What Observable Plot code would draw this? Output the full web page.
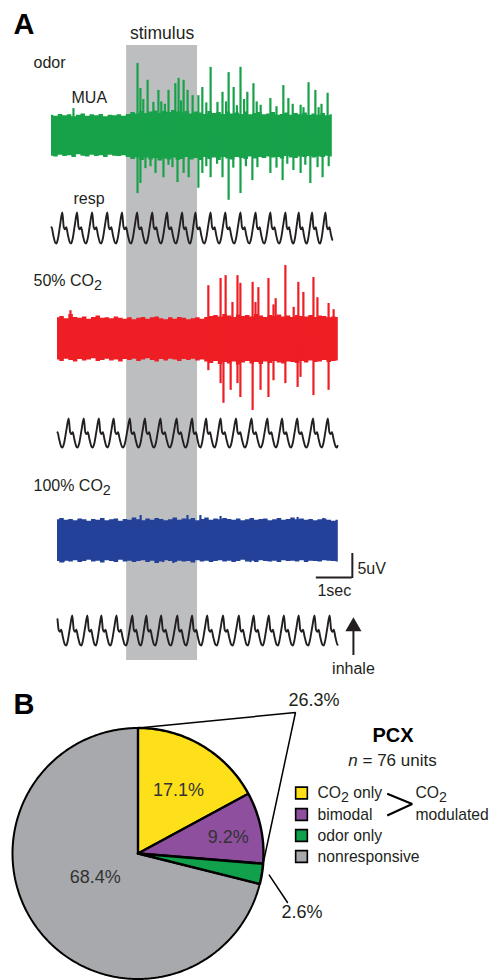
<!DOCTYPE html>
<html><head><meta charset="utf-8">
<script src="https://cdn.jsdelivr.net/npm/d3@7"></script>
<script src="https://cdn.jsdelivr.net/npm/@observablehq/plot@0.6"></script>
<style>
html,body{margin:0;padding:0;background:#fff;}
#chart svg{display:block;}
</style></head><body><div id="chart"></div>
<script>
// ---------------- DATA ----------------
// Panel A: stimulus window (s, relative to CO2-trace start)
const stimulus = [1.92, 3.89];
const scaleBar = {sec: 1, uV: 5};
// MUA envelopes (uV above / below baseline), evenly spaced over each trace
const odorTop = [4.2,4.0,4.4,4.1,4.3,3.9,4.2,4.5,4.0,4.3,4.1,4.4,3.9,4.2,4.1,4.3,4.0,4.4,4.8,4.5,5.0,4.6,4.9,5.1,4.6,5.0,4.8,5.2,4.9,4.7,5.0,4.5,4.9,4.7,4.4,5.0,4.6,4.8,4.4,4.9,4.5,4.7,4.4,4.9,4.3,4.6,4.8,4.3,4.5,4.8,4.2,4.4,4.7,4.2,4.6,4.3,4.7,4.2,4.5,4.2,4.6,4.1,4.3];
const odorBottom = [4.3,4.5,4.1,4.4,4.2,4.6,4.0,4.3,4.5,4.1,4.4,4.2,4.6,4.1,4.3,4.4,4.2,4.6,5.0,4.7,5.2,4.7,5.1,4.8,5.3,4.9,5.1,4.7,5.2,5.0,4.6,5.1,4.8,5.2,4.6,5.0,4.7,5.2,4.6,4.9,5.1,4.6,4.8,5.0,4.5,4.9,4.6,4.8,4.5,4.7,4.6,4.9,4.4,4.7,4.8,4.5,4.6,4.4,4.7,4.5,4.6,4.3,4.5];
const redTop = [4.3,4.6,4.1,5.0,4.4,4.2,4.5,4.0,4.4,4.7,4.2,4.3,4.1,4.5,4.2,4.0,4.3,3.9,4.2,4.4,4.0,4.3,4.5,4.1,3.9,4.3,4.0,4.4,4.2,3.9,4.1,4.3,4.0,4.4,4.6,4.8,4.5,5.0,4.7,4.4,4.9,4.6,4.8,4.5,5.0,4.7,4.4,4.8,4.6,4.9,4.5,4.7,4.4,4.8,4.6,4.5,4.8,4.4,4.7,4.6,4.3,4.5,4.4];
const redBottom = [4.5,4.8,4.3,4.6,4.9,4.4,4.7,4.5,4.2,4.8,4.6,4.3,4.7,4.5,4.9,4.4,4.6,4.3,4.8,4.5,4.2,4.6,4.9,4.4,4.7,4.3,4.5,4.8,4.4,4.6,4.3,4.7,4.5,4.9,5.2,4.8,5.4,5.0,5.3,4.9,5.5,5.1,4.8,5.3,5.0,5.4,4.9,5.2,4.8,5.1,5.3,4.9,5.0,5.2,4.8,5.1,4.7,5.0,4.9,4.6,5.0,4.8,4.7];
const blueTop = [4.3,4.6,4.2,4.4,4.1,4.5,4.3,4.0,4.4,4.2,4.6,4.1,4.3,4.5,4.0,4.4,4.2,4.7,4.3,4.1,4.5,4.2,4.6,4.4,4.1,4.3,4.7,4.2,4.5,4.3,4.6,4.1,4.4,4.7,4.2,4.5,4.3,4.6,4.4,4.2,4.5,4.1,4.3,4.6,4.2,4.4,4.5,4.1,4.3,4.6,4.2,4.4,4.7,4.3,4.5,4.2,4.4,4.1,4.3,4.5,4.2,4.0,4.2];
const blueBottom = [4.4,4.7,4.3,4.5,4.2,4.6,4.4,4.1,4.5,4.3,4.7,4.2,4.4,4.6,4.1,4.5,4.3,4.6,4.4,4.2,4.6,4.3,4.8,4.5,4.2,4.4,4.6,4.3,4.5,4.4,4.7,4.2,4.5,4.3,4.6,4.4,4.2,4.5,4.3,4.6,4.4,4.1,4.5,4.3,4.6,4.2,4.4,4.5,4.3,4.6,4.2,4.4,4.3,4.5,4.2,4.6,4.3,4.4,4.5,4.2,4.3,4.4,4.5];
// spikes: [time (s from trace start), amplitude uV]
const odorSpikesUp = [[0.61,5.6],[2.39,15.0],[2.47,9.8],[2.55,7.5],[2.67,11.5],[2.83,6.9],[2.97,9.4],[3.05,7.0],[3.15,6.5],[3.25,9.4],[3.44,10.8],[3.53,11.9],[3.60,7.2],[3.67,11.5],[3.78,9.4],[3.92,8.3],[4.08,8.3],[4.19,10.0],[4.30,6.8],[4.42,14.2],[4.61,6.9],[4.75,9.0],[4.85,7.0],[4.92,13.1],[5.06,10.0],[5.15,6.2],[5.25,14.2],[5.35,7.5],[5.44,9.0],[5.61,10.8],[5.70,7.0],[5.81,6.3],[6.08,7.7],[6.25,6.0],[6.44,10.4],[6.58,7.7],[6.70,6.5],[6.92,6.3],[7.00,5.8],[7.14,11.0],[7.33,9.4],[7.42,5.8],[7.50,6.5],[7.67,8.8]];
const odorSpikesDown = [[2.39,12.1],[2.47,10.0],[2.61,6.9],[2.75,6.5],[2.89,7.9],[3.11,8.8],[3.25,6.2],[3.36,6.7],[3.50,9.8],[3.67,7.9],[3.81,8.8],[4.08,11.0],[4.19,7.9],[4.30,6.5],[4.42,8.8],[4.60,6.0],[4.75,8.8],[4.92,13.5],[5.05,6.8],[5.25,12.1],[5.40,6.5],[5.58,9.4],[5.72,6.7],[6.08,7.9],[6.25,6.8],[6.42,9.4],[6.55,6.0],[6.72,7.3],[6.92,7.9],[7.05,6.2],[7.19,10.0],[7.39,6.7],[7.53,8.8],[7.70,6.5]];
const redSpikesUp = [[0.36,5.8],[4.19,11.0],[4.33,4.6],[4.53,12.5],[4.67,13.1],[4.86,7.5],[5.00,13.1],[5.08,11.5],[5.42,11.7],[5.50,7.5],[5.58,10.6],[5.86,12.5],[6.00,7.0],[6.06,8.3],[6.33,15.2],[6.56,6.5],[6.69,11.7],[6.83,9.6],[7.11,12.7],[7.22,8.5],[7.53,7.3],[7.67,6.0]];
const redSpikesDown = [[4.19,6.7],[4.53,9.4],[4.61,13.5],[4.81,10.8],[5.00,9.4],[5.08,12.3],[5.42,15.0],[5.64,10.8],[5.86,12.3],[6.00,8.8],[6.33,9.4],[6.67,10.2],[6.75,8.1],[7.11,11.9],[7.53,10.8]];
const blueSpikesUp = [[2.31,5.2],[3.61,5.2],[3.97,5.2],[4.53,5.0],[6.67,4.8],[7.39,4.6]];
const blueSpikesDown = [[0.17,4.6],[2.94,4.6],[3.22,4.8],[5.36,4.6]];
// respiration: inhalation peak times (s from trace start) and one-cycle shape [phase, level]
const resp1Peaks = [0.30,0.71,1.13,1.55,1.96,2.38,2.80,3.21,3.63,4.00,4.42,4.83,5.25,5.67,6.08,6.50,6.87,7.24,7.61];
const resp2Peaks = [0.31,0.73,1.15,1.56,2.01,2.43,2.86,3.31,3.74,4.13,4.53,4.96,5.39,5.83,6.24,6.66,7.10,7.51];
const resp3Peaks = [0.41,0.83,1.22,1.64,2.08,2.47,2.88,3.33,3.74,4.16,4.60,5.04,5.45,5.87,6.29,6.70,7.14,7.56];
const respShape = [[0,1],[0.10,0.05],[0.18,-0.08],[0.27,0.05],[0.38,-0.45],[0.52,-0.95],[0.60,-1],[0.70,-0.7],[0.85,0.2],[1,1]];
// Panel B
const pieCategories = ["CO_2 only","bimodal","odor only","nonresponsive"];
const piePercents = [17.1, 9.2, 2.6, 68.4];
const pieColors = ["#fde01a","#8e4f9f","#11a04b","#a7a9ac"];
const pieTitle = "PCX";
const pieSubtitle = "n = 76 units";

// ---------------- LAYOUT ----------------
const W = 489, HA = 680, HB = 300;
const pxPerSec = 36, pxPerUV = 4.8, xOrigin = 57;
const FONT = "'Liberation Sans', Arial, Helvetica, sans-serif";
const INK = "#231f20";
const tracks = {
  odor: {start: -6/36, dur: 7.8, center: 135, color: "#17a24a"},
  red:  {start: 0, dur: 7.8, center: 338, color: "#ed1f24"},
  blue: {start: 0, dur: 7.8, center: 540, color: "#234199"},
  r1: {start: -6/36, dur: 7.8, center: 227.5, half: 15.5},
  r2: {start: 0, dur: 7.78, center: 432.5, half: 14.5},
  r3: {start: 0, dur: 7.78, center: 630, half: 15}
};

function band(top, bottom, tr) {
  const n = Math.min(top.length, bottom.length), dt = tr.dur / (n - 1);
  return d3.range(n).map(i => ({t: tr.start + i * dt, hi: tr.center - top[i] * pxPerUV, lo: tr.center + bottom[i] * pxPerUV}));
}
function spikes(list, tr, dir) {
  return list.map(([t, a]) => ({t: tr.start + t, y1: tr.center, y2: tr.center - dir * a * pxPerUV}));
}
function resp(peaks, tr) {
  const period = (peaks[peaks.length - 1] - peaks[0]) / (peaks.length - 1);
  const ps = [peaks[0] - period, ...peaks, peaks[peaks.length - 1] + period];
  let pts = [];
  for (let i = 0; i < ps.length - 1; i++) {
    respShape.forEach(([ph, v], j) => {
      if (j === respShape.length - 1 && i < ps.length - 2) return;
      pts.push({t: ps[i] + ph * (ps[i + 1] - ps[i]), v});
    });
  }
  const interp = (t) => {
    for (let i = 0; i < pts.length - 1; i++) if (pts[i].t <= t && pts[i + 1].t >= t) {
      const f = (t - pts[i].t) / (pts[i + 1].t - pts[i].t);
      return pts[i].v + f * (pts[i + 1].v - pts[i].v);
    }
    return 0;
  };
  const inner = pts.filter(p => p.t > 0 && p.t < tr.dur);
  const all = [{t: 0, v: interp(0)}, ...inner, {t: tr.dur, v: interp(tr.dur)}];
  return all.map(p => ({t: tr.start + p.t, y: tr.center - p.v * tr.half}));
}

const stimMid = (stimulus[0] + stimulus[1]) / 2;
const barX2 = 8.19, barX1 = barX2 - scaleBar.sec, barY = 577;
const arrowX = 8.22;

function muaMarks(top, bottom, up, down, tr) {
  return [
    Plot.areaY(band(top, bottom, tr), {x: "t", y1: "lo", y2: "hi", fill: tr.color, curve: "step"}),
    Plot.ruleX(spikes(up, tr, 1), {x: "t", y1: "y1", y2: "y2", stroke: tr.color, strokeWidth: 2.2}),
    Plot.ruleX(spikes(down, tr, -1), {x: "t", y1: "y1", y2: "y2", stroke: tr.color, strokeWidth: 2.2})
  ];
}
function respMark(peaks, tr) {
  return Plot.line(resp(peaks, tr), {x: "t", y: "y", stroke: INK, strokeWidth: 1.9, curve: "monotone-x"});
}
const tx = (x, y, text, o = {}) => Plot.text([{x, y, text}], {x: "x", y: "y", text: "text", textAnchor: "start", lineAnchor: "middle", fontSize: 16, fill: INK, ...o});

const plotA = Plot.plot({
  width: W, height: HA, margin: 0,
  x: {domain: [-xOrigin / pxPerSec, (W - xOrigin) / pxPerSec], range: [0, W], axis: null},
  y: {domain: [0, HA], range: [0, HA], axis: null},
  style: {fontFamily: FONT, background: "white"},
  marks: [
    Plot.rect([{x1: stimulus[0], x2: stimulus[1], y1: 45, y2: 660}], {x1: "x1", x2: "x2", y1: "y1", y2: "y2", fill: "#bcbec0"}),
    ...muaMarks(odorTop, odorBottom, odorSpikesUp, odorSpikesDown, tracks.odor),
    ...muaMarks(redTop, redBottom, redSpikesUp, redSpikesDown, tracks.red),
    ...muaMarks(blueTop, blueBottom, blueSpikesUp, blueSpikesDown, tracks.blue),
    respMark(resp1Peaks, tracks.r1),
    respMark(resp2Peaks, tracks.r2),
    respMark(resp3Peaks, tracks.r3),
    // scale bar
    Plot.ruleY([{x1: barX1, x2: barX2, y: barY}], {x1: "x1", x2: "x2", y: "y", stroke: INK, strokeWidth: 2}),
    Plot.ruleX([{x: barX2, y1: barY + 1, y2: barY - scaleBar.uV * pxPerUV}], {x: "x", y1: "y1", y2: "y2", stroke: INK, strokeWidth: 2}),
    // inhale arrow
    Plot.ruleX([{x: arrowX, y1: 655, y2: 628}], {x: "x", y1: "y1", y2: "y2", stroke: INK, strokeWidth: 2}),
    Plot.dot([{x: arrowX, y: 626}], {x: "x", y: "y", symbol: "triangle", r: 6, fill: INK, stroke: "none"}),
    // texts
    tx(-1.222, 24, "A", {fontSize: 29, fontWeight: "bold", fill: "#000"}),
    tx(stimMid, 32.5, "stimulus", {textAnchor: "middle", fontSize: 17.5}),
    tx(-0.667, 62, "odor"),
    tx(0.389, 97, "MUA"),
    tx(0.444, 198, "resp"),
    tx(-0.667, 280, "50% CO_2"),
    tx(-0.667, 485, "100% CO_2"),
    tx(barX2 + 0.14, 568, scaleBar.uV + "uV"),
    tx(barX1 + 0.03, 590, scaleBar.sec + "sec"),
    tx(arrowX, 668, "inhale", {textAnchor: "middle"})
  ]
});

// ---- Panel B: pie ----
const cx = 137.5, cy = 173, R = 125.5;
const pt = (f, r = R) => ({x: cx + r * Math.sin(f * 2 * Math.PI), y: cy - r * Math.cos(f * 2 * Math.PI)});
const cum = [0];
piePercents.forEach((p, i) => cum.push(cum[i] + p / 100));
cum[cum.length - 1] = 1;
const slices = piePercents.map((p, i) => {
  const a0 = cum[i], a1 = cum[i + 1];
  const n = Math.max(4, Math.ceil((a1 - a0) * 360));
  const pts = [{x: cx, y: cy}];
  for (let k = 0; k <= n; k++) pts.push(pt(a0 + (a1 - a0) * k / n));
  pts.push({x: cx, y: cy});
  return {i, pts, mid: (a0 + a1) / 2};
});
const labelR = [0.6, 0.73, null, 0.39];
const modPct = piePercents[0] + piePercents[1];
const apex = {x: 295, y: 32};
const sliceMark = (s, sw) => Plot.line(s.pts, {x: "x", y: "y", fill: pieColors[s.i], stroke: "#000", strokeWidth: sw, strokeLinejoin: "miter", curve: "linear"});
const legendY = [112.5, 134, 155, 176];
const tb = (x, y, text, o = {}) => Plot.text([{x, y, text}], {x: "x", y: "y", text: "text", textAnchor: "start", lineAnchor: "middle", fontSize: 15.7, fill: INK, ...o});

const plotB = Plot.plot({
  width: W, height: HB, margin: 0,
  x: {domain: [0, W], range: [0, W], axis: null},
  y: {domain: [0, HB], range: [0, HB], axis: null},
  style: {fontFamily: FONT, background: "white"},
  marks: [
    sliceMark(slices[3], 2),
    sliceMark(slices[0], 2.4),
    sliceMark(slices[1], 2.4),
    sliceMark(slices[2], 2.6),
    Plot.line([pt(0), apex, pt(cum[2])], {x: "x", y: "y", stroke: "#000", strokeWidth: 1.5, strokeLinejoin: "miter"}),
    Plot.line([pt(slices[2].mid, R * 1.06), {x: 287, y: 222}], {x: "x", y: "y", stroke: "#000", strokeWidth: 1.5}),
    ...slices.filter(s => labelR[s.i]).map(s => {
      const p = pt(s.mid + (s.i === 0 ? 0.005 : s.i === 3 ? 0.025 : 0.005), R * labelR[s.i]);
      return tb(p.x, p.y, piePercents[s.i].toFixed(1) + "%", {textAnchor: "middle", fontSize: 18, fill: "#333"});
    }),
    tb(288, 20, modPct.toFixed(1) + "%", {fontSize: 18}),
    tb(281, 232, piePercents[2].toFixed(1) + "%", {fontSize: 18}),
    tb(13, 24, "B", {fontSize: 29, fontWeight: "bold", fill: "#000"}),
    tb(392.5, 55, pieTitle, {textAnchor: "middle", fontSize: 20, fontWeight: "bold", fill: "#000"}),
    tb(392, 80, pieSubtitle, {textAnchor: "middle", fontSize: 17}),
    Plot.dot(pieCategories.map((c, i) => ({x: 301, y: legendY[i], c: pieColors[i]})), {x: "x", y: "y", symbol: "square", r: 6.6, fill: "c", stroke: "#000", strokeWidth: 1.6}),
    ...pieCategories.map((c, i) => tb(317, legendY[i], c)),
    Plot.line([{x: 386.7, y: 113.3}, {x: 411.7, y: 123.5}, {x: 386.7, y: 135}], {x: "x", y: "y", stroke: "#000", strokeWidth: 2, strokeLinejoin: "miter", strokeLinecap: "butt"}),
    tb(415, 112, "CO_2"),
    tb(415, 134, "modulated")
  ]
});

function fixText(svg) {
  svg.querySelectorAll("text").forEach(t => {
    const s = t.textContent;
    if (s.includes("_2")) {
      const [a, b] = s.split("_2");
      t.textContent = "";
      const ns = "http://www.w3.org/2000/svg";
      const t1 = document.createElementNS(ns, "tspan"); t1.textContent = a; t.appendChild(t1);
      const t2 = document.createElementNS(ns, "tspan"); t2.textContent = "2"; t2.setAttribute("dy", "0.3em"); t2.setAttribute("font-size", "0.9em"); t.appendChild(t2);
      if (b) { const t3 = document.createElementNS(ns, "tspan"); t3.textContent = b; t3.setAttribute("dy", "-0.3em"); t.appendChild(t3); }
    } else if (s.startsWith("n = ")) {
      t.textContent = "";
      const ns = "http://www.w3.org/2000/svg";
      const t1 = document.createElementNS(ns, "tspan"); t1.textContent = "n"; t1.setAttribute("font-style", "italic"); t.appendChild(t1);
      const t2 = document.createElementNS(ns, "tspan"); t2.textContent = s.slice(1); t.appendChild(t2);
    }
  });
  return svg;
}
document.getElementById("chart").append(fixText(plotA), fixText(plotB));
</script></body></html>
